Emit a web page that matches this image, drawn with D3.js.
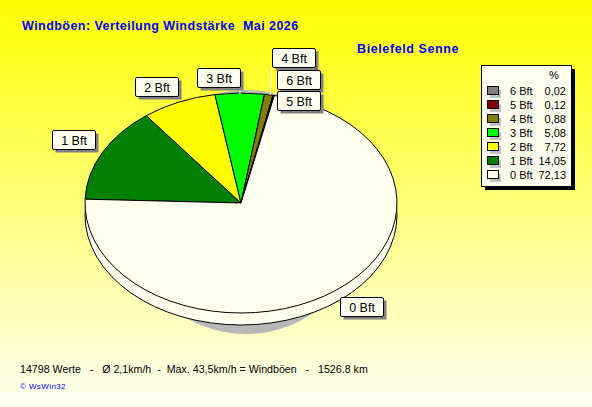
<!DOCTYPE html>
<html lang="de">
<head>
    <meta charset="UTF-8">
    <title>Windböen: Verteilung Windstärke Mai 2026</title>
    <script src="https://d3js.org/d3.v7.min.js"></script>
    <style>
        html, body { margin: 0; padding: 0; background: #fff; }
        svg { display: block; }
        text { font-family: "Liberation Sans", Arial, sans-serif; }
    </style>
</head>
<body>
    <svg width="592" height="407"></svg>
    <script>
        // legend order, top to bottom
        const categories = ["6 Bft", "5 Bft", "4 Bft", "3 Bft", "2 Bft", "1 Bft", "0 Bft"];
        const percent = [0.02, 0.12, 0.88, 5.08, 7.72, 14.05, 72.13];
        const colors = ["#808080", "#800000", "#808000", "#00ff00", "#ffff00", "#008000", "#fffff0"];
        // slices clockwise from the left edge of the pie
        const sliceOrder = ["1 Bft", "2 Bft", "3 Bft", "4 Bft", "5 Bft", "6 Bft", "0 Bft"];

        const titleText = "Windböen: Verteilung Windstärke  Mai 2026";
        const stationText = "Bielefeld Senne";
        const footerText = "14798 Werte   -   Ø 2,1km/h  -  Max. 43,5km/h = Windböen   -   1526.8 km";
        const creditText = "© WsWin32";

        const svg = d3.select("svg");
        const width = 592, height = 407;

        const defs = svg.append("defs");
        const bg = defs.append("linearGradient").attr("id", "bg")
            .attr("x1", 0).attr("x2", 0).attr("y1", 0).attr("y2", 1);
        bg.append("stop").attr("offset", "0%").attr("stop-color", "#ffff00");
        bg.append("stop").attr("offset", "100%").attr("stop-color", "#fffff4");
        svg.append("rect").attr("width", width).attr("height", height).attr("fill", "url(#bg)");

        svg.append("text").attr("x", 22).attr("y", 30)
            .attr("font-size", 12.5).attr("font-weight", "bold").attr("fill", "#0000ff")
            .style("white-space", "pre").style("letter-spacing", "0.45px")
            .text(titleText);
        svg.append("text").attr("x", 357).attr("y", 53)
            .attr("font-size", 12.5).attr("font-weight", "bold").attr("fill", "#0000ff")
            .style("letter-spacing", "0.6px")
            .text(stationText);

        // pie
        const cx = 241, cy = 203, rx = 156, ry = 110, depth = 12;
        const color = d3.scaleOrdinal().domain(categories).range(colors);
        const valueOf = new Map(categories.map((c, i) => [c, percent[i]]));
        const pie = d3.pie().sort(null).value(c => valueOf.get(c))
            .startAngle(-88 * Math.PI / 180).endAngle(272 * Math.PI / 180);
        const arc = d3.arc().innerRadius(0).outerRadius(rx);
        const squash = `scale(1,${ry / rx})`;

        svg.append("ellipse").attr("cx", 246).attr("cy", 212).attr("rx", 120).attr("ry", 122)
            .attr("fill", "#b8b8b8");

        svg.append("ellipse").attr("cx", cx).attr("cy", cy + depth).attr("rx", rx).attr("ry", ry)
            .attr("fill", color("0 Bft")).attr("stroke", "#000");

        svg.append("g").attr("transform", `translate(${cx},${cy}) ${squash}`)
            .selectAll("path")
            .data(pie(sliceOrder))
            .join("path")
            .attr("d", arc)
            .attr("fill", d => color(d.data))
            .attr("stroke", "#000")
            .attr("stroke-width", 1)
            .attr("vector-effect", "non-scaling-stroke")
            .attr("stroke-linejoin", "round");

        // callouts
        const labelBoxes = {
            "4 Bft": [272, 48], "6 Bft": [277, 70], "5 Bft": [277, 91],
            "3 Bft": [197, 68], "2 Bft": [135, 77], "1 Bft": [52, 130], "0 Bft": [340, 297]
        };
        const leaders = {
            "3 Bft": [[240, 86], [240, 94]],
            "4 Bft": [[272, 68], [270, 95]]
        };
        const boxW = 43, boxH = 19;
        Object.values(leaders).forEach(p => {
            svg.append("path").attr("d", d3.line()(p)).attr("stroke", "#fff").attr("fill", "none");
        });
        const labels = svg.append("g").selectAll("g")
            .data(["3 Bft", "2 Bft", "1 Bft", "0 Bft", "4 Bft", "6 Bft", "5 Bft"])
            .join("g")
            .attr("transform", d => `translate(${labelBoxes[d][0]},${labelBoxes[d][1]})`);
        labels.append("rect").attr("x", 3.5).attr("y", 3.5).attr("width", boxW).attr("height", boxH)
            .attr("fill", "#808080");
        labels.append("rect").attr("x", 0.5).attr("y", 0.5).attr("width", boxW).attr("height", boxH)
            .attr("rx", 1.5).attr("fill", "#fffff0").attr("stroke", "#000");
        labels.append("text").attr("x", boxW / 2 + 0.5).attr("y", 14.5).attr("text-anchor", "middle")
            .attr("font-size", 12.5).attr("fill", "#000").text(d => d);

        // legend
        const legend = svg.append("g").attr("transform", "translate(481,65)");
        legend.append("rect").attr("x", 4).attr("y", 4).attr("width", 90).attr("height", 121).attr("fill", "#000");
        legend.append("rect").attr("x", 0.5).attr("y", 0.5).attr("width", 90).attr("height", 121)
            .attr("fill", "#fffff0").attr("stroke", "#000");
        legend.append("text").attr("x", 73).attr("y", 14).attr("text-anchor", "middle")
            .attr("font-size", 11).attr("fill", "#000").text("%");

        const rowY = d3.scalePoint().domain(categories).range([26, 110]);
        const rows = legend.selectAll("g.row").data(categories).join("g")
            .attr("class", "row")
            .attr("transform", d => `translate(0,${rowY(d)})`);
        rows.append("rect").attr("x", 9).attr("y", -1).attr("width", 11).attr("height", 8)
            .attr("fill", "#c0c0c0");
        rows.append("rect").attr("x", 6.5).attr("y", -4.5).attr("width", 11).attr("height", 8)
            .attr("fill", d => color(d)).attr("stroke", "#000");
        rows.append("text").attr("x", 29).attr("y", 4).attr("font-size", 11).attr("fill", "#000").text(d => d);
        rows.append("text").attr("x", 85).attr("y", 4).attr("text-anchor", "end")
            .attr("font-size", 11).attr("fill", "#000")
            .text(d => d3.format(".2f")(valueOf.get(d)).replace(".", ","));

        // footer
        svg.append("text").attr("x", 20).attr("y", 373).attr("font-size", 10.66).attr("fill", "#000")
            .style("white-space", "pre").text(footerText);
        svg.append("text").attr("x", 20).attr("y", 389).attr("font-size", 8).attr("fill", "#0000ff")
            .style("letter-spacing", "0.4px").text(creditText);
    </script>
</body>
</html>
